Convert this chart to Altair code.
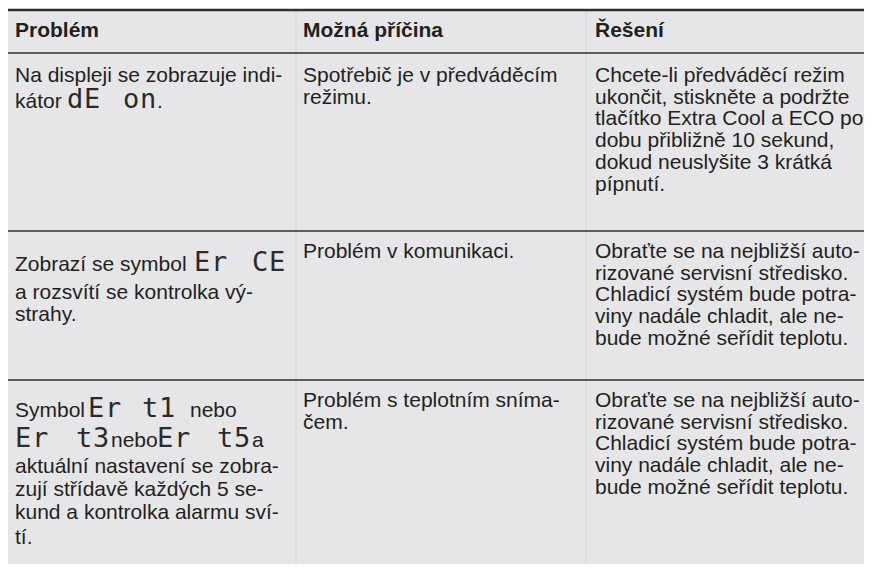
import altair as alt
import pandas as pd

# ---------------- content ----------------
headers = ["Problém", "Možná příčina", "Řešení"]

problems = [
    ["Na displeji se zobrazuje indi-", "kátor"],
    ["Zobrazí se symbol", "a rozsvítí se kontrolka vý-", "strahy."],
    ["Symbol", "", "aktuální nastavení se zobra-", "zují střídavě každých 5 se-",
     "kund a kontrolka alarmu sví-", "tí."],
]
causes = [
    ["Spotřebič je v předváděcím", "režimu."],
    ["Problém v komunikaci."],
    ["Problém s teplotním sníma-", "čem."],
]
solutions = [
    ["Chcete-li předváděcí režim", "ukončit, stiskněte a podržte",
     "tlačítko Extra Cool a ECO po", "dobu přibližně 10 sekund,",
     "dokud neuslyšite 3 krátká", "pípnutí."],
    ["Obraťte se na nejbližší auto-", "rizované servisní středisko.",
     "Chladicí systém bude potra-", "viny nadále chladit, ale ne-",
     "bude možné seřídit teplotu."],
    ["Obraťte se na nejbližší auto-", "rizované servisní středisko.",
     "Chladicí systém bude potra-", "viny nadále chladit, ale ne-",
     "bude možné seřídit teplotu."],
]
# words placed after display symbols: (row, line, text)
inline_words = [(0, 1, "."), (2, 0, "nebo"), (2, 1, "nebo"), (2, 1, "a")]
# display symbols shown in the problem column: (row, line, text)
display_codes = [(0, 1, "dE on"), (1, 0, "Er CE"), (2, 0, "Er t1"),
                 (2, 1, "Er t3"), (2, 1, "Er t5")]

# ---------------- layout ----------------
col_x = [15, 303, 595]
row_top = [53, 231, 380]
first_offset = [29, 27, 27]
line_step = 21.7
problem_baselines = [[82, 108], [271, 299, 321], [417, 447, 473, 496, 519, 544]]
inline_word_x = [157, 190, 111, 252]
display_char_x = [[67, 84, 123, 140], [194, 211, 252, 269], [88, 105, 142, 159],
                  [15, 32, 76, 93], [157, 174, 217, 234]]

TEXT = "#231f20"
BG = "#e6e6e8"
FONT = "Liberation Sans"

# ---------------- build tables ----------------
head_df = pd.DataFrame({"x": col_x, "y": [37] * 3, "t": headers})

body = []
for r, lines in enumerate(problems):
    for i, t in enumerate(lines):
        if t:
            body.append({"x": col_x[0], "y": problem_baselines[r][i], "t": t})
for w, (r, i, t) in enumerate(inline_words):
    body.append({"x": inline_word_x[w], "y": problem_baselines[r][i], "t": t})
for c, cells in ((1, causes), (2, solutions)):
    for r, lines in enumerate(cells):
        for i, t in enumerate(lines):
            body.append({"x": col_x[c], "y": row_top[r] + first_offset[r] + i * line_step, "t": t})
body_df = pd.DataFrame(body)

seg = []
for k, (r, i, code) in enumerate(display_codes):
    chars = code.replace(" ", "")
    for j, ch in enumerate(chars):
        seg.append({"x": display_char_x[k][j], "y": problem_baselines[r][i], "t": ch})
seg_df = pd.DataFrame(seg)

bg_df = pd.DataFrame({"x": [8], "x2": [864], "y": [10], "y2": [564]})
hlines = pd.DataFrame({"x": [8, 8, 8, 8], "x2": [864] * 4,
                       "y": [10, 53, 231, 380], "w": [2.6, 1.5, 1.4, 1.4]})
vlines = pd.DataFrame({"x": [296, 586], "y": [11, 11], "y2": [564, 564]})

xs = alt.Scale(domain=[8, 864], nice=False, zero=False)
ys = alt.Scale(domain=[8, 564], nice=False, zero=False, reverse=True)


def X(f):
    return alt.X(f, type="quantitative", scale=xs, axis=None)


def Y(f):
    return alt.Y(f, type="quantitative", scale=ys, axis=None)


bg = alt.Chart(bg_df).mark_rect(color=BG).encode(
    x=X("x"), x2="x2", y=Y("y"), y2="y2")

vr = alt.Chart(vlines).mark_rule(color="#d6d6d8", strokeWidth=1).encode(
    x=X("x"), y=Y("y"), y2="y2")

hr = alt.Chart(hlines).mark_rule(color="#2e2e2e").encode(
    x=X("x"), x2="x2", y=Y("y"),
    strokeWidth=alt.StrokeWidth("w:Q", scale=None, legend=None))

head = alt.Chart(head_df).mark_text(
    align="left", baseline="alphabetic", font=FONT, fontSize=21,
    fontWeight="bold", color=TEXT).encode(x=X("x"), y=Y("y"), text="t:N")

txt = alt.Chart(body_df).mark_text(
    align="left", baseline="alphabetic", font=FONT, fontSize=21,
    color=TEXT).encode(x=X("x"), y=Y("y"), text="t:N")

segs = alt.Chart(seg_df).mark_text(
    align="left", baseline="alphabetic", font="DejaVu Sans Mono", fontSize=27,
    color="#2a2a2a").encode(x=X("x"), y=Y("y"), text="t:N")

chart = alt.layer(bg, vr, hr, head, txt, segs).properties(
    width=856, height=556, padding=0, autosize="none", background="white"
).configure_view(stroke=None)

chart.save("out.html", embed_options={"renderer": "svg", "actions": False})
